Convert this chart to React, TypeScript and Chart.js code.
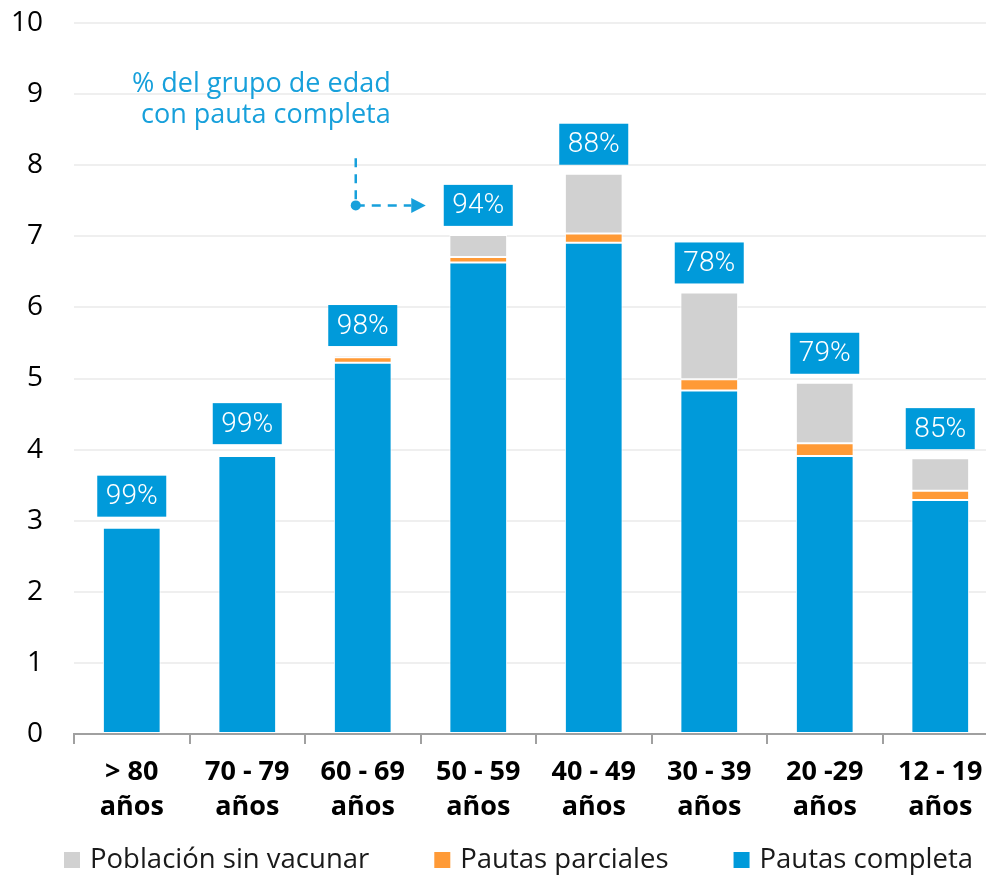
import React, { useEffect, useRef } from "react";
import { Chart, registerables } from "chart.js";

Chart.register(...registerables);

const categories: string[][] = [
  ["> 80", "años"],
  ["70 - 79", "años"],
  ["60 - 69", "años"],
  ["50 - 59", "años"],
  ["40 - 49", "años"],
  ["30 - 39", "años"],
  ["20 -29", "años"],
  ["12 - 19", "años"],
];

const pautasCompleta = [2.9, 3.91, 5.22, 6.63, 6.91, 4.83, 3.91, 3.29];
const pautasParciales = [0.03, 0.02, 0.08, 0.08, 0.13, 0.16, 0.18, 0.13];
const sinVacunar = [0.0, 0.02, 0.03, 0.31, 0.84, 1.22, 0.85, 0.46];
const pctCompleta = ["99%", "99%", "98%", "94%", "88%", "78%", "79%", "85%"];

const yTicks = [0, 1, 2, 3, 4, 5, 6, 7, 8, 9, 10];

const annotationLines = ["% del grupo de edad", "con pauta completa"];

const BLUE = "#009ADA";
const ORANGE = "#FF9A36";
const GRAY = "#D1D1D1";
const ANNOT = "#17A0DB";

const labelBoxesPlugin = {
  id: "labelBoxes",
  afterDatasetsDraw(chart: any) {
    const ctx = chart.ctx;
    const xs = chart.scales.x;
    const ys = chart.scales.y;
    ctx.save();
    for (let i = 0; i < categories.length; i++) {
      const total = pautasCompleta[i] + pautasParciales[i] + sinVacunar[i];
      const yTop = ys.getPixelForValue(total);
      const cx = xs.getPixelForValue(i);
      const w = 69;
      const h = 41;
      const bottom = yTop - 9;
      ctx.fillStyle = BLUE;
      ctx.fillRect(cx - w / 2, bottom - h, w, h);
      ctx.fillStyle = "#ffffff";
      ctx.font = "300 28px Roboto";
      ctx.textAlign = "center";
      ctx.textBaseline = "middle";
      ctx.fillText(pctCompleta[i], cx, bottom - h / 2 + 1);
    }

    // annotation
    const x2 = xs.getPixelForValue(2);
    const xr = x2 + 28;
    const y9 = ys.getPixelForValue(9);
    const y8 = ys.getPixelForValue(8);
    ctx.fillStyle = ANNOT;
    ctx.font = "27px 'Open Sans'";
    ctx.textAlign = "right";
    ctx.textBaseline = "alphabetic";
    ctx.fillText(annotationLines[0], xr, y9 - 2.5);
    ctx.fillText(annotationLines[1], xr, y9 + 29);

    const total3 = pautasCompleta[3] + pautasParciales[3] + sinVacunar[3];
    const boxCenterY = ys.getPixelForValue(total3) - 9 - 20.5;
    const boxLeft = xs.getPixelForValue(3) - 34.5;
    const vx = xr - 35;
    const tip = boxLeft - 18;
    const base = tip - 14.5;
    ctx.strokeStyle = ANNOT;
    ctx.lineWidth = 2.5;
    ctx.setLineDash([9, 7]);
    ctx.beginPath();
    ctx.moveTo(vx, y8 - 7);
    ctx.lineTo(vx, boxCenterY);
    ctx.stroke();
    ctx.beginPath();
    ctx.moveTo(vx, boxCenterY);
    ctx.lineTo(base, boxCenterY);
    ctx.stroke();
    ctx.setLineDash([]);
    ctx.beginPath();
    ctx.arc(vx, boxCenterY, 5, 0, Math.PI * 2);
    ctx.fill();
    ctx.beginPath();
    ctx.moveTo(base, boxCenterY - 7.5);
    ctx.lineTo(tip, boxCenterY);
    ctx.lineTo(base, boxCenterY + 7.5);
    ctx.closePath();
    ctx.fill();

    // legend
    const legendY = 860;
    let lx = chart.chartArea.left - 10;
    const items = [...chart.data.datasets].reverse();
    ctx.font = "27.5px 'Open Sans'";
    ctx.textAlign = "left";
    ctx.textBaseline = "middle";
    items.forEach((ds: any) => {
      ctx.fillStyle = ds.backgroundColor;
      ctx.fillRect(lx, legendY - 8, 16, 16);
      ctx.fillStyle = "#1a1a1a";
      ctx.fillText(ds.label, lx + 26, legendY);
      lx += 26 + ctx.measureText(ds.label).width + 65;
    });
    ctx.restore();
  },
};

export default function App() {
  const ref = useRef<HTMLCanvasElement | null>(null);

  useEffect(() => {
    document.body.style.margin = "0";
    const canvas = ref.current;
    if (!canvas) return;
    const chart = new Chart(canvas, {
      type: "bar",
      data: {
        labels: categories,
        datasets: [
          {
            label: "Pautas completa",
            data: pautasCompleta,
            backgroundColor: BLUE,
            borderColor: "#ffffff",
            borderWidth: 1,
            borderSkipped: false,
          },
          {
            label: "Pautas parciales",
            data: pautasParciales,
            backgroundColor: ORANGE,
            borderColor: "#ffffff",
            borderWidth: 1,
            borderSkipped: false,
          },
          {
            label: "Población sin vacunar",
            data: sinVacunar,
            backgroundColor: GRAY,
            borderColor: "#ffffff",
            borderWidth: 1,
            borderSkipped: false,
          },
        ],
      },
      options: {
        responsive: false,
        animation: false,
        layout: { padding: { top: 23, right: 2, left: 0, bottom: 0 } },
        datasets: {
          bar: { categoryPercentage: 1, barPercentage: 0.5 },
        },
        plugins: {
          legend: { display: false },
          tooltip: { enabled: false },
        },
        scales: {
          x: {
            stacked: true,
            grid: {
              display: true,
              drawOnChartArea: false,
              drawTicks: true,
              tickLength: 10,
              color: "#a0a0a0",
              lineWidth: 2,
              offset: true,
            },
            border: { display: true, color: "#a0a0a0", width: 2 },
            ticks: {
              color: "#000000",
              padding: 11,
              maxRotation: 0,
              autoSkip: false,
              font: { family: "'Open Sans'", size: 27, weight: "bold", lineHeight: 1.3 },
            },
            afterFit: (scale: any) => {
              scale.height = 141;
            },
          },
          y: {
            stacked: true,
            min: 0,
            max: 10,
            afterBuildTicks: (scale: any) => {
              scale.ticks = yTicks.map((v) => ({ value: v }));
            },
            grid: {
              drawTicks: false,
              lineWidth: 2,
              color: (c: any) => (c.tick && c.tick.value === 0 ? "rgba(0,0,0,0)" : "#efefef"),
            },
            border: { display: false },
            ticks: {
              color: "#000000",
              padding: 31,
              font: { family: "'Open Sans'", size: 28 },
            },
            afterFit: (scale: any) => {
              scale.width = 74;
              scale.paddingTop = 10;
              scale.paddingBottom = 10;
            },
          },
        },
      },
      plugins: [labelBoxesPlugin],
    });
    return () => chart.destroy();
  }, []);

  return (
    <div style={{ width: 986, height: 875, overflow: "hidden", background: "#fff" }}>
      <canvas ref={ref} width={1000} height={875} style={{ display: "block" }} />
    </div>
  );
}
